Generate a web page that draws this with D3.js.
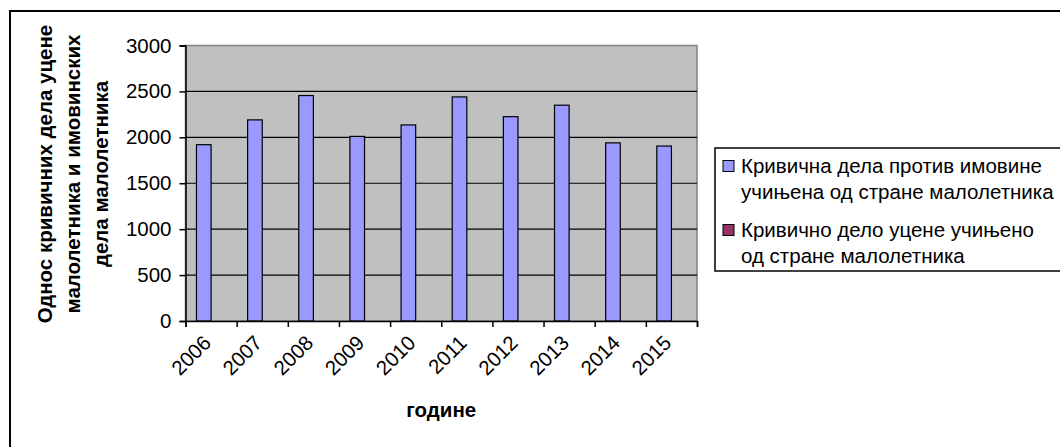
<!DOCTYPE html>
<html lang="sr">
<head>
    <meta charset="UTF-8">
    <script src="https://d3js.org/d3.v7.min.js"></script>
    <style>
        body {margin: 0; background-color: #FFFFFF}
        svg {display: block; font-family: Arial, "Liberation Sans", sans-serif}
    </style>
</head>
<body>
<svg class="chart"></svg>
<script type="text/javascript">
    const years = ['2006', '2007', '2008', '2009', '2010', '2011', '2012', '2013', '2014', '2015'];
    const imovina = [1920, 2190, 2455, 2010, 2135, 2440, 2225, 2350, 1940, 1905];
    const ucena = [0, 0, 0, 0, 0, 0, 0, 0, 0, 0];
    const y_ticks = [0, 500, 1000, 1500, 2000, 2500, 3000];
    const series_names = [
        ['Кривична дела против имовине', 'учињена од стране малолетника'],
        ['Кривично дело уцене учињено', 'од стране малолетника']
    ];
    const series_colors = ['#9999FF', '#993366'];
    const y_title = ['Однос кривичних дела уцене', 'малолетника и имовинских', 'дела малолетника'];
    const x_title = 'године';

    let width = 1060, height = 447;
    let font_size = 20.5;
    let plot = {left: 185.5, right: 697, top: 45.5, bottom: 321};

    let svg = d3.select('.chart').attr('width', width).attr('height', height);

    // outer chart border (runs off the right and bottom edge)
    svg.append('rect')
        .attr('x', 10).attr('y', 11)
        .attr('width', 1200).attr('height', 600)
        .attr('fill', 'none').attr('stroke', '#000').attr('stroke-width', 2);

    let x = d3.scaleBand().domain(years).range([plot.left, plot.right]).padding(0);
    let x_inner = d3.scaleBand().domain([0, 1]).range([0, x.bandwidth()])
        .paddingInner(0).paddingOuter(0.75);
    let y = d3.scaleLinear().domain([0, 3000]).range([plot.bottom, plot.top]);

    svg.append('rect')
        .attr('x', plot.left).attr('y', plot.top)
        .attr('width', plot.right - plot.left).attr('height', plot.bottom - plot.top)
        .attr('fill', '#C0C0C0').attr('stroke', '#808080').attr('stroke-width', 1.5);

    // gridlines
    svg.append('g').selectAll('line').data(y_ticks.filter(d => d > 0 && d < 3000)).enter().append('line')
        .attr('x1', plot.left).attr('x2', plot.right)
        .attr('y1', d => y(d)).attr('y2', d => y(d))
        .attr('stroke', '#000').attr('stroke-width', 1.2);

    // bars
    [imovina, ucena].forEach((vals, s) => {
        svg.append('g').selectAll('rect').data(vals).enter().append('rect')
            .attr('x', (d, i) => x(years[i]) + x_inner(s))
            .attr('y', d => y(d))
            .attr('width', x_inner.bandwidth())
            .attr('height', d => y(0) - y(d))
            .attr('fill', series_colors[s])
            .attr('stroke', d => d > 0 ? '#000' : 'none')
            .attr('stroke-width', 1.2);
    });

    // axes
    let y_axis = d3.axisLeft(y).tickValues(y_ticks).tickSize(6).tickPadding(8).tickFormat(d3.format('d'));
    let gy = svg.append('g').attr('transform', `translate(${plot.left},0)`).call(y_axis);
    gy.select('.domain').attr('stroke', '#000').attr('stroke-width', 1.5);
    gy.selectAll('.tick line').attr('stroke', '#000').attr('stroke-width', 1.5);
    gy.selectAll('text').attr('font-size', font_size).attr('fill', '#000')
        .attr('font-family', 'Arial, "Liberation Sans", sans-serif');

    let x_edges = d3.axisBottom(d3.scaleLinear().domain([0, years.length]).range([plot.left, plot.right]))
        .tickValues(d3.range(0, years.length + 1)).tickSize(6).tickFormat('');
    let gx = svg.append('g').attr('transform', `translate(0,${plot.bottom})`).call(x_edges);
    gx.select('.domain').attr('stroke', '#000').attr('stroke-width', 1.5);
    gx.selectAll('.tick line').attr('stroke', '#000').attr('stroke-width', 1.5);

    svg.append('g').selectAll('text').data(years).enter().append('text')
        .attr('transform', d => `translate(${x(d) + x.bandwidth() / 2 - 9},${plot.bottom + 13}) rotate(-45)`)
        .attr('text-anchor', 'end')
        .attr('dy', '0.7em')
        .attr('font-size', font_size)
        .text(d => d);

    svg.append('text')
        .attr('x', (plot.left + plot.right) / 2).attr('y', 417)
        .attr('text-anchor', 'middle')
        .attr('font-size', font_size).attr('font-weight', 'bold')
        .text(x_title);

    y_title.forEach((t, i) => {
        svg.append('text')
            .attr('transform', `translate(${52 + i * 28},174) rotate(-90)`)
            .attr('text-anchor', 'middle')
            .attr('font-size', font_size).attr('font-weight', 'bold')
            .text(t);
    });

    // legend
    let legend = svg.append('g').attr('transform', 'translate(715,148)');
    legend.append('rect')
        .attr('x', 0).attr('y', 0).attr('width', 500).attr('height', 123)
        .attr('fill', '#fff').attr('stroke', '#000').attr('stroke-width', 1.5);
    series_names.forEach((lines, s) => {
        let mid = 18 + s * 64;
        legend.append('rect')
            .attr('x', 8).attr('y', mid - 5.5).attr('width', 11).attr('height', 11)
            .attr('fill', series_colors[s]).attr('stroke', '#000').attr('stroke-width', 1);
        lines.forEach((l, j) => {
            legend.append('text')
                .attr('x', 26).attr('y', mid + 7 + j * 26)
                .attr('font-size', font_size)
                .text(l);
        });
    });
</script>
</body>
</html>
